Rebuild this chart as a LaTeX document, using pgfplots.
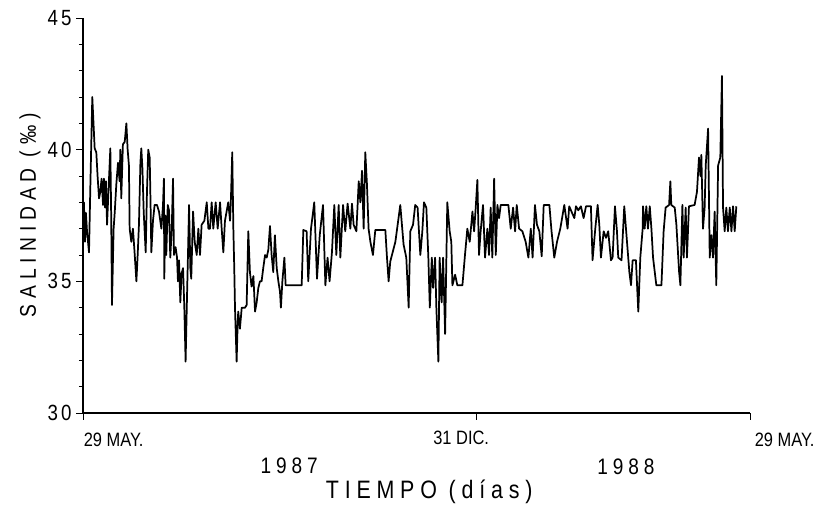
\documentclass[border=0pt]{standalone}
\usepackage{fontspec}
\setmainfont{Liberation Sans}
\newfontfamily\datefont[FakeStretch=0.85]{Liberation Sans}
\newfontfamily\yearfont[FakeStretch=0.85,LetterSpace=22]{Liberation Sans}
\newfontfamily\tkfont[FakeStretch=0.85,LetterSpace=14]{Liberation Sans}
\newfontfamily\ylabfont[FakeStretch=0.85,LetterSpace=26]{Liberation Sans}
\newfontfamily\xlabfont[FakeStretch=0.85,LetterSpace=23]{Liberation Sans}
\usepackage{pgfplots}
\pgfplotsset{compat=1.18}
\pgfplotstableread{
day sal
0.0 37.5
0.5 38.0
1.1 36.5
1.6 37.6
2.2 36.9
3.3 36.1
4.0 38.5
5.1 42.0
6.4 40.05
7.3 39.9
8.0 39.0
8.8 38.15
9.5 38.4
10.2 38.9
11.0 37.9
11.5 38.9
12.1 37.8
12.6 38.8
13.2 37.15
13.9 38.3
15.0 40.05
15.5 37.3
15.9 34.1
16.8 37.0
17.4 37.6
18.3 38.7
19.2 39.5
20.1 38.8
20.5 40.0
21.0 38.15
21.9 40.2
22.9 40.3
23.8 41.0
24.5 40.0
25.2 39.4
25.6 37.0
26.5 36.5
27.4 37.0
28.3 36.1
29.3 35.0
30.0 36.0
30.7 37.15
31.5 39.5
32.0 40.05
32.6 39.3
33.3 37.65
34.4 36.1
35.1 38.4
35.8 40.0
36.6 39.7
37.1 37.8
37.5 36.1
38.4 37.3
39.3 37.9
40.6 37.9
41.7 37.65
43.0 37.0
43.9 37.9
44.4 38.9
44.6 35.1
45.2 37.5
45.7 36.0
46.5 37.9
47.2 37.7
47.9 35.9
48.7 37.0
49.4 38.9
49.9 36.0
50.8 36.3
51.6 35.9
52.1 35.0
52.7 35.8
53.4 34.2
54.1 35.3
54.9 35.5
55.6 34.0
56.3 31.95
57.1 34.5
57.6 36.0
58.2 37.9
58.9 35.5
59.4 35.1
60.4 37.65
61.3 36.5
62.4 36.0
63.3 37.0
64.2 36.0
65.1 37.15
66.6 37.3
67.9 38.0
68.8 37.0
69.7 37.0
70.6 38.0
71.5 37.0
72.8 38.0
73.9 37.0
75.2 38.0
76.1 37.0
77.0 36.1
77.9 37.3
78.8 37.65
79.7 38.0
80.7 37.3
81.2 38.2
81.9 39.9
82.5 37.0
83.0 35.5
83.4 34.0
84.3 31.95
84.9 33.5
85.2 33.85
86.1 33.2
87.1 34.0
88.9 34.0
89.8 34.1
90.7 36.9
91.6 35.35
92.5 34.8
93.5 35.2
94.4 33.85
95.3 34.2
96.2 34.75
97.1 35.0
98.0 35.0
98.9 35.5
99.9 36.0
100.8 35.9
101.7 36.2
102.6 37.1
103.5 36.0
104.4 35.35
105.3 36.75
106.3 35.5
107.2 35.0
108.1 34.6
108.6 34.0
109.4 35.0
110.5 35.9
111.2 34.85
120.0 34.85
120.9 36.95
122.7 36.9
123.6 35.0
125.1 37.0
126.9 38.0
128.4 35.1
129.9 36.75
131.7 37.9
133.0 34.85
134.2 35.9
135.3 35.0
136.6 36.1
137.9 37.9
139.0 36.0
140.3 37.9
141.2 35.9
142.7 37.9
143.9 36.9
145.2 37.95
146.7 37.0
147.6 37.95
148.5 37.15
150.0 36.9
151.3 38.8
152.2 38.0
153.1 39.2
154.0 37.0
154.9 39.9
155.8 38.7
156.7 37.0
157.7 36.5
159.1 36.0
160.4 36.95
165.9 36.95
166.8 35.9
167.7 35.0
168.6 35.75
171.4 36.5
174.1 37.9
175.9 36.4
177.4 35.9
178.7 34.0
179.6 36.9
181.1 37.15
182.3 37.9
183.6 37.8
185.1 36.0
186.2 36.9
187.1 38.0
188.4 37.8
189.5 35.9
190.3 34.0
191.4 35.9
192.1 34.75
193.2 35.9
193.9 34.0
195.0 31.95
195.7 35.9
196.8 34.2
197.6 35.9
198.7 33.0
199.9 38.0
201.2 36.9
202.1 36.5
202.7 34.85
204.2 35.25
205.4 34.85
208.2 34.85
209.6 36.0
210.9 37.0
212.2 36.5
213.7 37.65
214.6 36.9
215.5 37.8
216.4 38.85
217.3 36.0
218.2 36.9
219.5 37.9
220.6 35.9
221.9 37.0
222.8 36.0
223.7 37.8
224.6 35.9
225.6 38.9
226.5 36.0
227.4 37.9
228.3 37.4
229.2 37.9
233.4 37.9
234.7 37.0
236.0 37.8
237.1 36.9
238.0 37.9
239.3 37.0
241.1 36.9
242.9 36.5
244.4 35.9
245.7 37.0
246.7 35.9
248.0 37.9
249.1 37.15
250.4 36.9
251.7 35.95
252.8 37.9
255.9 37.9
257.1 36.9
258.6 35.9
260.1 36.5
261.9 37.0
264.1 37.9
265.9 37.0
266.8 37.85
269.6 37.4
270.5 37.85
271.8 37.7
273.2 37.85
274.7 37.4
276.0 37.85
278.7 37.85
279.6 35.8
281.1 37.0
282.4 37.9
283.3 37.15
284.2 35.9
285.7 36.9
287.0 36.65
288.2 36.9
289.7 35.8
290.6 35.9
291.9 37.85
293.0 36.9
293.7 35.9
295.5 35.8
297.0 37.85
298.5 36.5
299.8 35.35
300.7 34.85
301.6 35.8
303.4 35.8
304.7 33.85
305.8 35.9
307.1 37.0
307.3 37.85
308.2 37.0
309.1 37.85
310.0 37.0
311.0 37.85
311.9 37.0
312.8 35.9
314.6 34.85
317.4 34.85
318.6 36.9
319.7 37.8
321.6 37.9
322.3 38.8
322.8 37.9
324.7 37.8
325.6 37.15
327.1 35.35
327.8 34.85
328.9 37.9
329.6 35.9
330.7 37.8
331.4 35.9
332.5 37.85
335.6 37.9
336.9 38.4
338.0 39.7
338.8 39.0
339.3 39.8
340.2 37.0
341.1 37.8
341.7 39.4
343.0 40.8
343.9 35.9
344.8 36.75
345.7 35.9
346.6 37.65
347.5 34.85
348.5 39.4
349.7 39.7
350.6 42.8
351.2 37.8
352.1 36.9
353.0 37.8
353.9 36.9
354.9 37.8
355.8 36.9
356.7 37.85
357.6 36.9
358.5 37.85
}\salinidad
\begin{document}
\begin{tikzpicture}
\useasboundingbox (-62.25pt,-69.75pt) rectangle (550.5pt,309.75pt);
\begin{axis}[
  at={(0pt,0pt)}, anchor=south west,
  width=500.25pt, height=296.25pt, scale only axis,
  xmin=0, xmax=366, ymin=30, ymax=45,
  axis x line*=bottom, axis y line*=left,
  axis line style={-, line width=0.8pt},
  ytick={30,35,40,45},
  minor ytick={31,32,33,34,36,37,38,39,41,42,43,44},
  xtick={0,216,366}, xticklabels={},
  tick align=outside,
  major tick length=5pt, minor tick length=3pt,
  tick style={black, line width=0.7pt},
  /pgf/number format/assume math mode=true,
  yticklabel style={font=\tkfont\fontsize{16.5}{18}\selectfont},
  clip=false,
]
\addplot[black, line width=1.3pt, line join=round] table[x=day, y=sal] {\salinidad};
\node[font=\datefont\fontsize{14.5}{16}\selectfont] at (axis description cs:0.046,-0.068) {29 MAY.};
\node[font=\yearfont\fontsize{16.8}{18}\selectfont] at (axis description cs:0.309,-0.134) {1987};
\node[font=\datefont\fontsize{14.5}{16}\selectfont] at (axis description cs:0.567,-0.063) {31 DIC.};
\node[font=\yearfont\fontsize{16.8}{18}\selectfont] at (axis description cs:0.814,-0.137) {1988};
\node[font=\datefont\fontsize{14.5}{16}\selectfont] at (axis description cs:1.052,-0.068) {29 MAY.};
\node[font=\xlabfont\fontsize{18.9}{21}\selectfont] at (axis description cs:0.519,-0.2) {TIEMPO (días)};
\node[rotate=90, font=\ylabfont\fontsize{17}{19}\selectfont] at (axis description cs:-0.0795,0.501) {SALINIDAD (‰)};
\end{axis}
\end{tikzpicture}
\end{document}
